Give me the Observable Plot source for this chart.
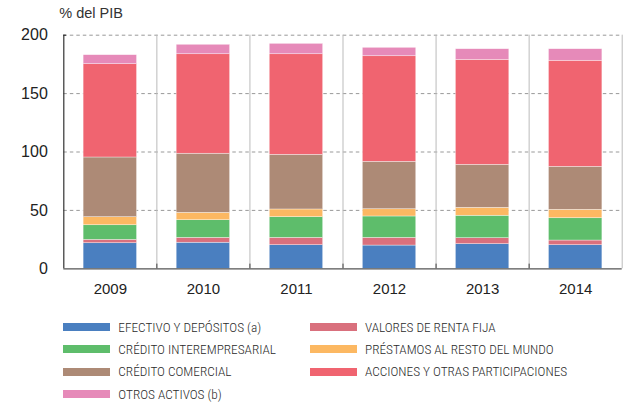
<!DOCTYPE html>
<html>
<head>
<meta charset="utf-8">
<script src="https://cdn.jsdelivr.net/npm/d3@7"></script>
<script src="https://cdn.jsdelivr.net/npm/@observablehq/plot@0.6"></script>
<style>
  body { margin: 0; background: #fff; font-family: "Liberation Sans", Arial, sans-serif; }
  #chart { width: 629px; }
  .legend { display: grid; grid-template-columns: 246.7px auto; padding-left: 63.3px; margin-top: 14px;
    font-family: "Roboto Condensed", "DejaVu Sans Condensed", sans-serif; font-weight: 300; font-size: 13.3px; color: #2a2a2a; }
  .item { display: flex; align-items: center; height: 22.3px; white-space: nowrap; }
  .sw { width: 47px; height: 8px; margin-right: 8px; flex: none; }
</style>
</head>
<body>
<div id="chart"></div>
<script>
const years = [2009, 2010, 2011, 2012, 2013, 2014];
const series = [
  "EFECTIVO Y DEPÓSITOS (a)",
  "VALORES DE RENTA FIJA",
  "CRÉDITO INTEREMPRESARIAL",
  "PRÉSTAMOS AL RESTO DEL MUNDO",
  "CRÉDITO COMERCIAL",
  "ACCIONES Y OTRAS PARTICIPACIONES",
  "OTROS ACTIVOS (b)"
];
const colors = ["#4a7fc0", "#d9707d", "#5ebd6b", "#fcb862", "#ad8a76", "#f06470", "#e68ab9"];
const efectivo     = [21.9, 22.3, 20.2, 19.9, 21.1, 20.2];
const valores      = [2.9, 4.2, 6.3, 6.6, 5.1, 4.0];
const creditoInter = [12.5, 15.1, 17.7, 18.3, 19.2, 19.1];
const prestamos    = [6.9, 6.3, 6.6, 6.2, 6.8, 7.2];
const creditoCom   = [51.1, 50.6, 46.8, 40.6, 36.8, 36.8];
const acciones     = [79.9, 85.2, 86.1, 90.4, 89.9, 90.8];
const otros        = [7.7, 8.1, 8.9, 7.2, 9.1, 9.9];
const yTicks = [0, 50, 100, 150, 200];
const yLabel = "% del PIB";

const values = [efectivo, valores, creditoInter, prestamos, creditoCom, acciones, otros];
const data = [];
years.forEach((yr, i) => series.forEach((s, k) => data.push({year: yr, series: s, value: values[k][i]})));
const halfBar = 0.287;
const boundaries = years.map(y => y + 0.5);

const plot = Plot.plot({
  width: 629,
  height: 302,
  marginLeft: 63.3,
  marginRight: 7.3,
  marginTop: 34.7,
  marginBottom: 33.7,
  style: {fontFamily: "'Liberation Sans', Arial, sans-serif", fontSize: "15px", color: "#222", background: "#fff"},
  x: {type: "linear", domain: [years[0] - 0.5, years[years.length - 1] + 0.5]},
  y: {domain: [0, 200]},
  color: {domain: series, range: colors},
  marks: [
    Plot.gridY([50, 100, 150, 200], {stroke: "#999", strokeOpacity: 1, strokeDasharray: "3.5,3"}),
    Plot.ruleX(boundaries, {y1: 0, y2: 200, stroke: "#bbb", strokeWidth: 1}),
    Plot.rectY(data, {
      x1: d => d.year - halfBar, x2: d => d.year + halfBar,
      y: "value", fill: "series", order: series,
      stroke: "#fff", strokeWidth: 0.6, strokeOpacity: 0.6
    }),
    Plot.ruleX(boundaries.slice(0, -1), {y1: 0, y2: 4, stroke: "#444", strokeWidth: 1}),
    Plot.ruleY([0], {stroke: "#555", strokeWidth: 1.3}),
    Plot.ruleX([years[0] - 0.5], {y1: 0, y2: 200, stroke: "#333", strokeWidth: 1.2}),
    Plot.ruleY([200], {x1: years[0] - 0.5, x2: years[0] - 0.47, stroke: "#333", strokeWidth: 1.2}),
    Plot.axisY({ticks: yTicks, tickSize: 0, tickPadding: 16, fontSize: 16, label: null}),
    Plot.axisX({ticks: years, tickFormat: d => String(d), tickSize: 0, tickPadding: 15, fontSize: 15, label: null}),
    Plot.text([yLabel], {frameAnchor: "top-left", text: d => d, dx: -4.5, dy: -27, lineAnchor: "top", textAnchor: "start", fontSize: 14.5, fill: "#333"})
  ]
});
const chart = document.getElementById("chart");
chart.appendChild(plot);

const legend = document.createElement("div");
legend.className = "legend";
series.forEach((s, k) => {
  const it = document.createElement("div");
  it.className = "item";
  const sw = document.createElement("span");
  sw.className = "sw";
  sw.style.background = colors[k];
  const tx = document.createElement("span");
  tx.textContent = s;
  it.appendChild(sw);
  it.appendChild(tx);
  legend.appendChild(it);
});
chart.appendChild(legend);
</script>
</body>
</html>
